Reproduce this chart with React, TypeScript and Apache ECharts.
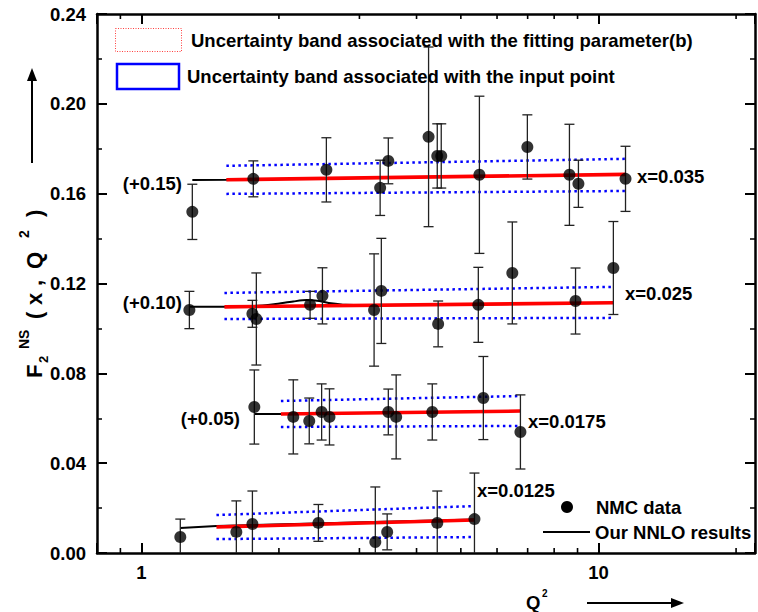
import React, { useEffect, useRef } from 'react';
import * as echarts from 'echarts';

// ---------- data (plotted values, offsets already included) ----------
const X_MIN = 0.8;
const X_MAX = 22;
const X_MINOR_TICKS = [0.9, 2, 3, 4, 5, 6, 7, 8, 9, 20];
const X_LABELS = [1, 10];

// x = 0.035 (+0.15)
const Q2_035 = [1.293, 1.758, 2.54, 3.33, 3.47, 4.25, 4.44, 4.53, 5.49, 6.99, 8.64, 9.04, 11.46];
const F2_035 = [0.1519, 0.1666, 0.1706, 0.1626, 0.1746, 0.1853, 0.1768, 0.1768, 0.1684, 0.1808, 0.1684, 0.1644, 0.1666];
const ERR_035 = [0.0123, 0.008, 0.0143, 0.0123, 0.0102, 0.04, 0.0143, 0.0143, 0.035, 0.0143, 0.0225, 0.0105, 0.0145];
const NNLO_035 = [[1.293, 0.1661], [1.535, 0.1662], [11.46, 0.1686]];
const BAND_B_035 = [[1.535, 0.1662], [11.46, 0.1686]];
const BAND_UP_035 = [[1.535, 0.1724], [11.46, 0.1755]];
const BAND_LO_035 = [[1.535, 0.1599], [11.46, 0.1612]];

// x = 0.025 (+0.10)
const Q2_025 = [1.274, 1.75, 1.785, 2.34, 2.49, 3.23, 3.35, 4.46, 5.46, 6.48, 8.91, 10.78];
const F2_025 = [0.1082, 0.1065, 0.1042, 0.1105, 0.1145, 0.1082, 0.1167, 0.102, 0.1105, 0.1247, 0.1122, 0.1269];
const ERR_025 = [0.0083, 0.006, 0.0205, 0.006, 0.0125, 0.025, 0.0234, 0.0102, 0.0167, 0.0227, 0.0147, 0.0207];
const NNLO_025 = [[1.274, 0.1096], [1.52, 0.1096], [1.75, 0.1099], [1.95, 0.1108], [2.15, 0.1120], [2.3, 0.1126], [2.45, 0.1122], [2.6, 0.1112], [2.8, 0.1105], [3.1, 0.1104], [10.78, 0.1114]];
const BAND_B_025 = [[1.52, 0.1096], [10.78, 0.1114]];
const BAND_UP_025 = [[1.52, 0.1158], [10.78, 0.1185]];
const BAND_LO_025 = [[1.52, 0.1042], [10.78, 0.1047]];

// x = 0.0175 (+0.05)
const Q2_0175 = [1.767, 2.15, 2.33, 2.48, 2.58, 3.47, 3.61, 4.33, 5.6, 6.75];
const F2_0175 = [0.065, 0.0606, 0.0588, 0.0628, 0.0606, 0.0628, 0.0606, 0.0628, 0.069, 0.0539];
const ERR_0175 = [0.0165, 0.0165, 0.0102, 0.0125, 0.0125, 0.0102, 0.0187, 0.0125, 0.0185, 0.0165];
const NNLO_0175 = [[1.767, 0.0619], [2.02, 0.0619], [6.75, 0.0632]];
const BAND_B_0175 = [[2.02, 0.0619], [6.75, 0.0632]];
const BAND_UP_0175 = [[2.02, 0.0677], [6.75, 0.0699]];
const BAND_LO_0175 = [[2.02, 0.0561], [6.75, 0.0566]];

// x = 0.0125
const Q2_0125 = [1.217, 1.614, 1.75, 2.44, 3.25, 3.45, 4.44, 5.355];
const F2_0125 = [0.0071, 0.0094, 0.0129, 0.0134, 0.0049, 0.0094, 0.0134, 0.0151];
const ERR_0125 = [0.008, 0.0138, 0.0147, 0.0082, 0.0245, 0.008, 0.0142, 0.0205];
const NNLO_0125 = [[1.217, 0.0111], [1.46, 0.012], [5.355, 0.0149]];
const BAND_B_0125 = [[1.46, 0.0116], [5.355, 0.0147]];
const BAND_UP_0125 = [[1.46, 0.0169], [5.355, 0.0209]];
const BAND_LO_0125 = [[1.46, 0.0062], [5.355, 0.0071]];

const Y_MIN = 0;
const Y_MAX = 0.24;
const Y_STEP = 0.04;

// ---------- styles ----------
const FONT = '"Liberation Sans", Arial, Helvetica, sans-serif';
const BOLD = (s: number) => `bold ${s}px ${FONT}`;

const SETS = [
  { q: Q2_035, f: F2_035, e: ERR_035, nnlo: NNLO_035, b: BAND_B_035, up: BAND_UP_035, lo: BAND_LO_035, smooth: false },
  { q: Q2_025, f: F2_025, e: ERR_025, nnlo: NNLO_025, b: BAND_B_025, up: BAND_UP_025, lo: BAND_LO_025, smooth: 0.3 },
  { q: Q2_0175, f: F2_0175, e: ERR_0175, nnlo: NNLO_0175, b: BAND_B_0175, up: BAND_UP_0175, lo: BAND_LO_0175, smooth: false },
  { q: Q2_0125, f: F2_0125, e: ERR_0125, nnlo: NNLO_0125, b: BAND_B_0125, up: BAND_UP_0125, lo: BAND_LO_0125, smooth: false },
];

function txt(text: string, x: number, y: number, size = 18.5, align = 'left') {
  return {
    type: 'text',
    x,
    y,
    z: 100,
    style: {
      text,
      font: BOLD(size),
      fill: '#000',
      align,
      textAlign: align,
      verticalAlign: 'middle',
      textVerticalAlign: 'middle',
    },
  };
}

function rtxt(text: string, x: number, y: number, size: number) {
  return {
    type: 'text',
    x,
    y,
    style: { text, font: BOLD(size), fill: '#000', verticalAlign: 'middle', textVerticalAlign: 'middle' },
  };
}

export default function App() {
  const ref = useRef<HTMLDivElement>(null);

  useEffect(() => {
    const chart = echarts.init(ref.current!, null, { renderer: 'svg' });

    const logAxisCommon = {
      type: 'log',
      logBase: 10,
      min: X_MIN,
      max: X_MAX,
      splitLine: { show: false },
      axisLine: { show: true, onZero: false, lineStyle: { color: '#000', width: 2.5 } },
      axisTick: { show: true, inside: true, length: 10, lineStyle: { color: '#000', width: 2 } },
      minorTick: { show: false },
    };
    const valAxisCommon = {
      type: 'value',
      min: Y_MIN,
      max: Y_MAX,
      interval: Y_STEP,
      splitLine: { show: false },
      axisLine: { show: true, onZero: false, lineStyle: { color: '#000', width: 2.5 } },
      axisTick: { show: true, inside: true, length: 10, lineStyle: { color: '#000', width: 2 } },
      minorTick: { show: true, splitNumber: 2, length: 5, lineStyle: { color: '#000', width: 1.5 } },
    };

    const series: any[] = [];

    // minor ticks on the log axes (bottom and top)
    series.push({
      type: 'custom',
      silent: true,
      clip: false,
      z: 20,
      data: X_MINOR_TICKS.map((v) => [v, Y_MIN]),
      encode: { x: 0, y: 1 },
      renderItem: (params: any, api: any) => {
        const x = api.coord([api.value(0), Y_MIN])[0];
        const yb = api.coord([api.value(0), Y_MIN])[1];
        const yt = api.coord([api.value(0), Y_MAX])[1];
        const st = { stroke: '#000', lineWidth: 1.6 };
        return {
          type: 'group',
          children: [
            { type: 'line', shape: { x1: x, y1: yb, x2: x, y2: yb - 5 }, style: st },
            { type: 'line', shape: { x1: x, y1: yt, x2: x, y2: yt + 5 }, style: st },
          ],
        };
      },
    });

    SETS.forEach((s) => {
      // blue dotted uncertainty band (input point)
      [s.up, s.lo].forEach((d) => {
        series.push({
          type: 'line',
          data: d,
          symbol: 'none',
          z: 2,
          lineStyle: { color: '#0000ff', width: 2.5, type: [2.5, 3.5], cap: 'butt' },
        });
      });
      // NNLO result (black)
      series.push({
        type: 'line',
        data: s.nnlo,
        symbol: 'none',
        smooth: s.smooth,
        z: 3,
        lineStyle: { color: '#000', width: 2 },
      });
      // band associated with fitting parameter (red)
      series.push({
        type: 'line',
        data: s.b,
        symbol: 'none',
        z: 4,
        lineStyle: { color: '#ff0000', width: 3.6 },
      });
      // error bars
      series.push({
        type: 'custom',
        z: 5,
        clip: true,
        data: s.q.map((q, i) => [q, s.f[i] - s.e[i], s.f[i] + s.e[i]]),
        encode: { x: 0, y: [1, 2] },
        renderItem: (params: any, api: any) => {
          const x = api.value(0);
          const pLo = api.coord([x, api.value(1)]);
          const pHi = api.coord([x, api.value(2)]);
          const hw = 5;
          const st = { stroke: '#222', lineWidth: 1.3 };
          return {
            type: 'group',
            children: [
              { type: 'line', shape: { x1: pLo[0], y1: pLo[1], x2: pHi[0], y2: pHi[1] }, style: st },
              { type: 'line', shape: { x1: pLo[0] - hw, y1: pLo[1], x2: pLo[0] + hw, y2: pLo[1] }, style: st },
              { type: 'line', shape: { x1: pHi[0] - hw, y1: pHi[1], x2: pHi[0] + hw, y2: pHi[1] }, style: st },
            ],
          };
        },
      });
      // NMC data points
      series.push({
        type: 'scatter',
        z: 6,
        symbol: 'circle',
        symbolSize: 12,
        itemStyle: { color: '#000' },
        data: s.q.map((q, i) => [q, s.f[i]]),
      });
    });

    const graphics: any[] = [
      // top legend
      {
        type: 'rect',
        shape: { x: 115.5, y: 28.5, width: 66, height: 23 },
        style: { fill: 'none', stroke: '#ff4040', lineWidth: 1, lineDash: [1, 1.5] },
      },
      txt('Uncertainty band associated with the fitting parameter(b)', 191, 40),
      {
        type: 'rect',
        shape: { x: 117, y: 64, width: 62, height: 25 },
        style: { fill: 'none', stroke: '#0000ff', lineWidth: 2.5 },
      },
      txt('Uncertainty band associated with the input point', 187, 76),
      // bottom-right legend
      { type: 'circle', shape: { cx: 567, cy: 507, r: 6 }, style: { fill: '#000' } },
      txt('NMC data', 596, 507),
      { type: 'line', shape: { x1: 543, y1: 532, x2: 590, y2: 532 }, style: { stroke: '#000', lineWidth: 2 } },
      txt('Our NNLO results', 595, 532),
      // offsets
      txt('(+0.15)', 182, 183, 18.5, 'right'),
      txt('(+0.10)', 182, 302, 18.5, 'right'),
      txt('(+0.05)', 240, 418, 18.5, 'right'),
      txt('x=0.035', 637, 176),
      txt('x=0.025', 625, 293),
      txt('x=0.0175', 528, 421),
      txt('x=0.0125', 477, 490),
      // x axis title + arrow
      txt('Q', 526, 602),
      txt('2', 542, 593, 10),
      { type: 'line', shape: { x1: 587, y1: 603, x2: 674, y2: 603 }, style: { stroke: '#000', lineWidth: 2 } },
      { type: 'polygon', shape: { points: [[684, 603], [671, 598], [671, 608]] }, style: { fill: '#000' } },
      // y axis arrow
      { type: 'line', shape: { x1: 32, y1: 163, x2: 32, y2: 78 }, style: { stroke: '#000', lineWidth: 2 } },
      { type: 'polygon', shape: { points: [[32, 68], [27, 81], [37, 81]] }, style: { fill: '#000' } },
      // y axis title (rotated, reading bottom to top)
      {
        type: 'group',
        x: 34,
        y: 283,
        rotation: Math.PI / 2,
        children: [
          rtxt('F', -95, 0, 22),
          rtxt('2', -80, 9, 13),
          rtxt('NS', -66, -10, 14),
          rtxt('(', -36, 0, 22),
          rtxt('x', -22, 0, 22),
          rtxt(',', -3, 0, 22),
          rtxt('Q', 14, 0, 22),
          rtxt('2', 45, -10, 14),
          rtxt(')', 66, 0, 22),
        ],
      },
    ];

    const option: any = {
      animation: false,
      backgroundColor: '#fff',
      grid: { left: 97, right: 1, top: 14, bottom: 59, containLabel: false },
      xAxis: [
        {
          ...logAxisCommon,
          position: 'bottom',
          axisLabel: {
            show: true,
            margin: 10,
            color: '#000',
            fontFamily: FONT,
            fontWeight: 'bold',
            fontSize: 18.5,
            formatter: (v: number) => {
              const hit = X_LABELS.find((t) => Math.abs(v - t) / t < 1e-6);
              return hit !== undefined ? String(hit) : '';
            },
          },
        },
        {
          ...logAxisCommon,
          position: 'top',
          axisLabel: { show: false },
        },
      ],
      yAxis: [
        {
          ...valAxisCommon,
          position: 'left',
          axisLabel: {
            show: true,
            margin: 11,
            color: '#000',
            fontFamily: FONT,
            fontWeight: 'bold',
            fontSize: 18.5,
            formatter: (v: number) => v.toFixed(2),
          },
        },
        {
          ...valAxisCommon,
          position: 'right',
          axisLabel: { show: false },
        },
      ],
      series,
      graphic: { elements: graphics },
    };

    chart.setOption(option);
    return () => chart.dispose();
  }, []);

  return <div ref={ref} style={{ position: 'absolute', left: 0, top: 0, width: 758, height: 612 }} />;
}
